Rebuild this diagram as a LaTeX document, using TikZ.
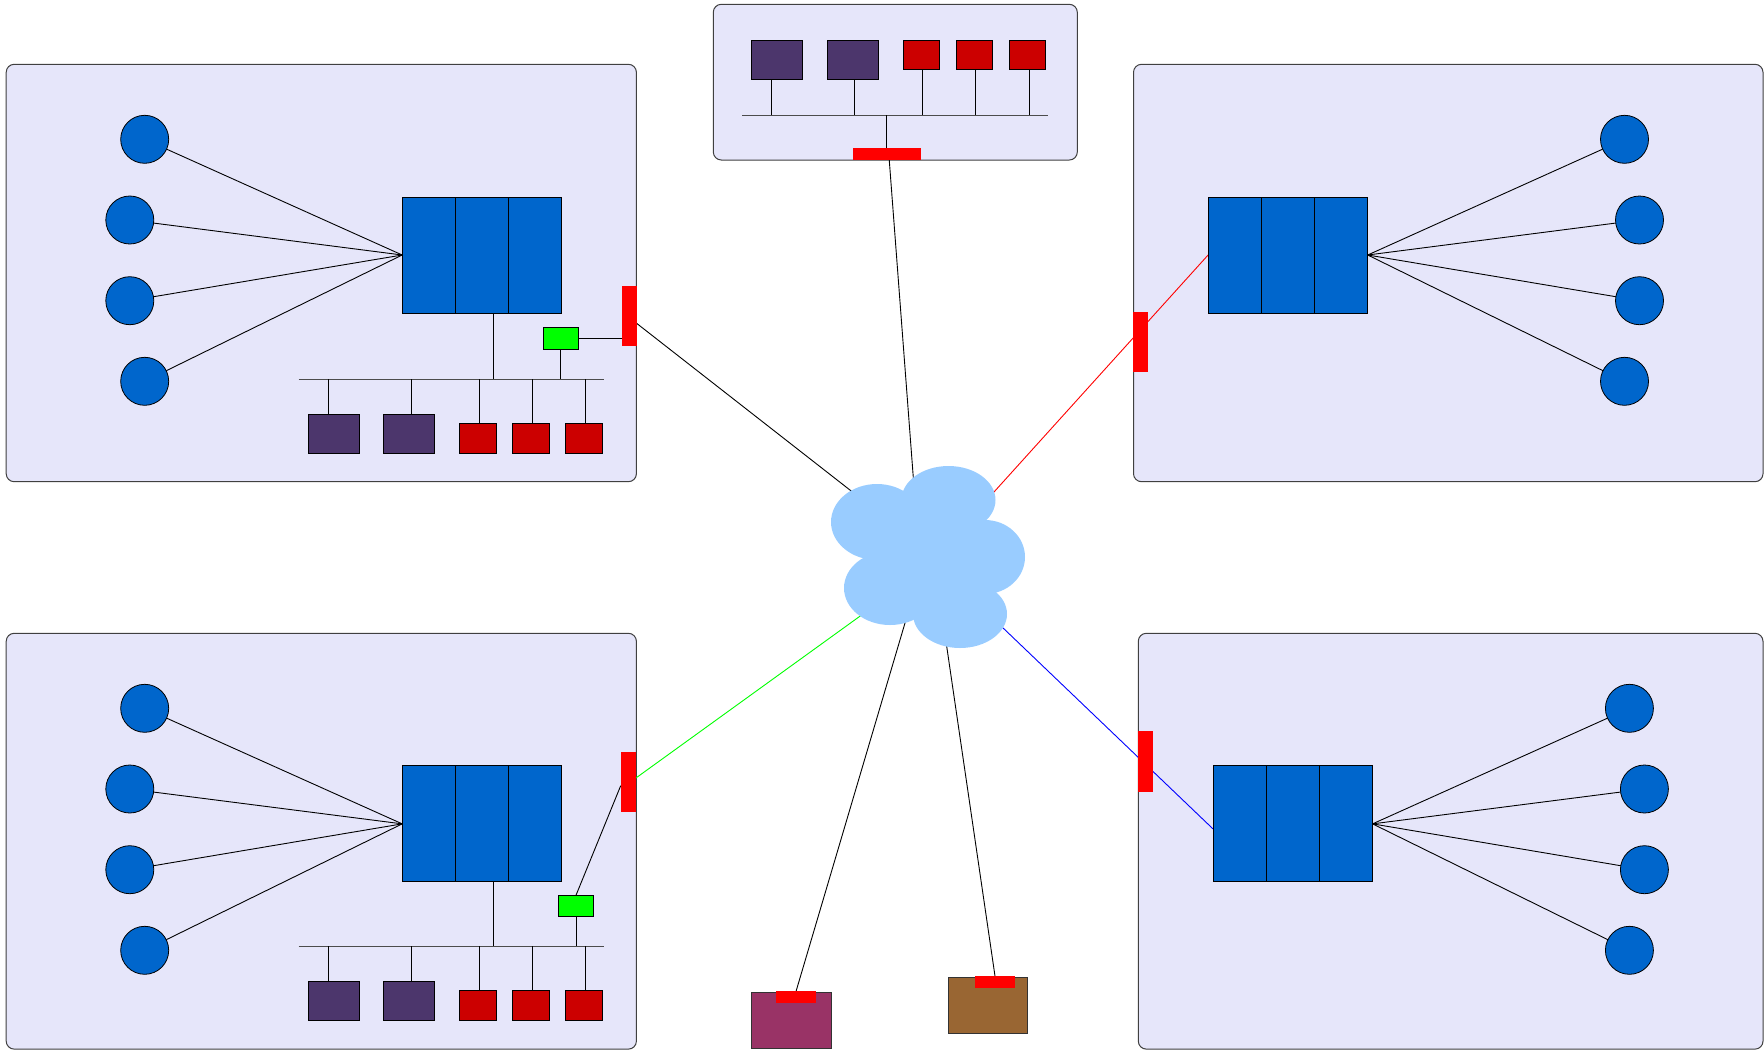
\documentclass[tikz,border=0pt]{standalone}
\usetikzlibrary{calc}
\definecolor{panel}{RGB}{230,230,250}
\definecolor{srvblue}{RGB}{0,102,204}
\definecolor{devpurple}{RGB}{76,54,108}
\definecolor{devred}{RGB}{204,0,0}
\definecolor{cloudblue}{RGB}{153,204,255}
\definecolor{magbox}{RGB}{153,51,102}
\definecolor{brownbox}{RGB}{153,102,51}
\pgfdeclarelayer{bg}\pgfdeclarelayer{edges}
\pgfsetlayers{bg,edges,main}
\tikzset{
 panelst/.style={draw=black!75, line width=1pt, fill=panel, rounded corners=8pt, inner sep=0pt, outer sep=0pt},
 bx/.style 2 args={inner sep=0pt, outer sep=0pt, minimum width=#1pt, minimum height=#2pt},
 srv/.style={bx={159.6}{116}, draw=black, line width=0.8pt, fill=srvblue},
 host/.style={circle, draw=black, line width=0.8pt, fill=srvblue, inner sep=0pt, outer sep=0pt, minimum size=48pt},
 pdev/.style={bx={51}{39}, draw=black, line width=0.8pt, fill=devpurple},
 rdev/.style={bx={37}{30}, draw=black, line width=0.8pt, fill=devred},
 gdev/.style={bx={35.3}{21.3}, draw=black, line width=0.8pt, fill=green},
 vbar/.style={bx={14.8}{60.6}, fill=red},
 tag/.style={bx={40}{11.5}, fill=red},
 ln/.style={draw=black, line width=0.9pt},
 busln/.style={draw=black!70, line width=1pt},
}
\begin{document}
\begin{tikzpicture}[x=1pt,y=-1pt]
\useasboundingbox (0,0) rectangle (1764,1050);
% panels
\begin{pgfonlayer}{bg}
\node[panelst, bx={630.2}{417.4}] (pnTL) at (321.3,273) {};
\node[panelst, bx={364}{155.7}] (pnT) at (895.3,82.15) {};
\node[panelst, bx={629.5}{417.4}] (pnTR) at (1448.25,273) {};
\node[panelst, bx={630.2}{415.8}] (pnBL) at (321.3,841.2) {};
\node[panelst, bx={624.7}{415.8}] (pnBR) at (1450.65,841.2) {};
\end{pgfonlayer}

% ---------- top-left panel ----------
\node[host] (cTL1) at (144.7,139.3) {};
\node[host] (cTL2) at (129.8,220) {};
\node[host] (cTL3) at (129.8,300.7) {};
\node[host] (cTL4) at (144.7,381.3) {};
\node[srv] (bTL) at (482,255) {};
\node[gdev] (gTL) at (560.65,338.35) {};
\node[vbar] (rTL) at (629.2,316) {};
\node[pdev] (pTL1) at (333.5,434.2) {};
\node[pdev] (pTL2) at (409.25,434.2) {};
\node[rdev] (qTL1) at (478.05,438.7) {};
\node[rdev] (qTL2) at (530.85,438.7) {};
\node[rdev] (qTL3) at (583.75,438.7) {};
\coordinate (busTLl) at (298.5,379);
\coordinate (busTLr) at (604,379);

% ---------- bottom-left panel ----------
\node[host] (cBL1) at (144.7,708.3) {};
\node[host] (cBL2) at (129.8,789) {};
\node[host] (cBL3) at (129.8,869.7) {};
\node[host] (cBL4) at (144.7,950.3) {};
\node[srv] (bBL) at (482,823.85) {};
\node[gdev] (gBL) at (576.1,905.65) {};
\node[vbar] (rBL) at (628.1,782) {};
\node[pdev] (pBL1) at (333.5,1001) {};
\node[pdev] (pBL2) at (409.25,1001) {};
\node[rdev] (qBL1) at (478.05,1005.5) {};
\node[rdev] (qBL2) at (530.85,1005.5) {};
\node[rdev] (qBL3) at (583.75,1005.5) {};
\coordinate (busBLl) at (298.5,946);
\coordinate (busBLr) at (604,946);

% ---------- top-right panel ----------
\node[host] (cTR1) at (1624.5,139.3) {};
\node[host] (cTR2) at (1639.5,220) {};
\node[host] (cTR3) at (1639.5,300.7) {};
\node[host] (cTR4) at (1624.5,381.3) {};
\node[srv] (bTR) at (1287.9,255) {};
\node[vbar] (rTR) at (1140.7,342) {};

% ---------- bottom-right panel ----------
\node[host] (cBR1) at (1629.4,708.3) {};
\node[host] (cBR2) at (1644.4,789) {};
\node[host] (cBR3) at (1644.4,869.7) {};
\node[host] (cBR4) at (1629.4,950.3) {};
\node[srv] (bBR) at (1292.75,823.85) {};
\node[vbar] (rBR) at (1145.8,761.2) {};

% block dividers (above the block fill)
\foreach \b in {bTL,bTR,bBL,bBR}{
  \draw[ln] ($(\b.north west)!1/3!(\b.north east)$) -- ($(\b.south west)!1/3!(\b.south east)$);
  \draw[ln] ($(\b.north west)!2/3!(\b.north east)$) -- ($(\b.south west)!2/3!(\b.south east)$);
}

% ---------- top panel ----------
\node[pdev] (pT1) at (777.2,59.5) {};
\node[pdev] (pT2) at (852.8,59.5) {};
\node[rdev, bx={36.7}{29.7}] (qT1) at (921.35,54.85) {};
\node[rdev, bx={36.7}{29.7}] (qT2) at (974.35,54.85) {};
\node[rdev, bx={36.7}{29.7}] (qT3) at (1027.35,54.85) {};
\node[bx={68.3}{12.3}, fill=red] (rT) at (886.85,153.85) {};
\coordinate (busTl) at (742.3,115);
\coordinate (busTr) at (1047.7,115);

% ---------- bottom boxes ----------
\node[bx={79.3}{56}, draw=black!80, line width=1pt, fill=magbox] (mbox) at (791.35,1020.3) {};
\node[tag] (tagM) at (796,997.2) {};
\node[bx={79.4}{56}, draw=black!80, line width=1pt, fill=brownbox] (bbox) at (988,1005) {};
\node[tag] (tagB) at (995,981.85) {};

% ---------- cloud ----------
\coordinate (cloud) at (930,560);
\coordinate (cA) at (880,513.5);
\coordinate (cB) at (915,500);
\coordinate (cC) at (975,513);
\coordinate (cD) at (985,610.7);
\coordinate (cE) at (880,601.7);
\coordinate (cF) at (911.8,600);
\coordinate (cG) at (944.3,630);
\fill[cloudblue] (877,522) ellipse [x radius=46pt, y radius=38pt];
\fill[cloudblue] (948.5,500) ellipse [x radius=47pt, y radius=34pt];
\fill[cloudblue] (985,557) ellipse [x radius=40pt, y radius=37pt];
\fill[cloudblue] (960,614) ellipse [x radius=47pt, y radius=34pt];
\fill[cloudblue] (890,588) ellipse [x radius=46pt, y radius=37pt];
\fill[cloudblue] (cloud) ellipse [x radius=60pt, y radius=50pt];

% ---------- edges ----------
\begin{pgfonlayer}{edges}
\foreach \i in {1,2,3,4}{
  \draw[ln] (cTL\i) -- (bTL.west);
  \draw[ln] (cBL\i) -- (bBL.west);
  \draw[ln] (cTR\i) -- (bTR.east);
  \draw[ln] (cBR\i) -- (bBR.east);
}
% top-left LAN
\draw[busln] (busTLl) -- (busTLr);
\draw[ln] ([xshift=11.4pt]bTL.south) -- ([xshift=11.4pt]bTL.south |- busTLl);
\draw[ln] ([xshift=-5.1pt]pTL1.north) -- ([xshift=-5.1pt]pTL1.north |- busTLl);
\draw[ln] ([xshift=2pt]pTL2.north) -- ([xshift=2pt]pTL2.north |- busTLl);
\draw[ln] ([xshift=1.2pt]qTL1.north) -- ([xshift=1.2pt]qTL1.north |- busTLl);
\draw[ln] ([xshift=1.4pt]qTL2.north) -- ([xshift=1.4pt]qTL2.north |- busTLl);
\draw[ln] ([xshift=1.6pt]qTL3.north) -- ([xshift=1.6pt]qTL3.north |- busTLl);
\draw[ln] (gTL.south) -- (gTL.south |- busTLl);
\draw[ln] (gTL.east) -- (gTL.east -| rTL.west);
% bottom-left LAN
\draw[busln] (busBLl) -- (busBLr);
\draw[ln] ([xshift=11.4pt]bBL.south) -- ([xshift=11.4pt]bBL.south |- busBLl);
\draw[ln] ([xshift=-5.1pt]pBL1.north) -- ([xshift=-5.1pt]pBL1.north |- busBLl);
\draw[ln] ([xshift=2pt]pBL2.north) -- ([xshift=2pt]pBL2.north |- busBLl);
\draw[ln] ([xshift=1.2pt]qBL1.north) -- ([xshift=1.2pt]qBL1.north |- busBLl);
\draw[ln] ([xshift=1.4pt]qBL2.north) -- ([xshift=1.4pt]qBL2.north |- busBLl);
\draw[ln] ([xshift=1.6pt]qBL3.north) -- ([xshift=1.6pt]qBL3.north |- busBLl);
\draw[ln] (gBL.south) -- (gBL.south |- busBLl);
\draw[ln] (gBL.north) -- ([yshift=-3.7pt]rBL.west);
% top LAN
\draw[busln] (busTl) -- (busTr);
\draw[ln] ([xshift=-5.5pt]pT1.south) -- ([xshift=-5.5pt]pT1.south |- busTl);
\draw[ln] ([xshift=1.9pt]pT2.south) -- ([xshift=1.9pt]pT2.south |- busTl);
\draw[ln] ([xshift=1.35pt]qT1.south) -- ([xshift=1.35pt]qT1.south |- busTl);
\draw[ln] ([xshift=1.35pt]qT2.south) -- ([xshift=1.35pt]qT2.south |- busTl);
\draw[ln] ([xshift=1.65pt]qT3.south) -- ([xshift=1.65pt]qT3.south |- busTl);
\draw[ln] (rT.north) -- (rT.north |- busTl);
% links to cloud
\draw[ln] ([yshift=-7.3pt]rTL.east) -- (cA);
\draw[ln] ([xshift=2.4pt]rT.south) -- (cB);
\draw[ln, draw=red] (bTR.west) -- (cC);
\draw[ln, draw=blue] ([yshift=-5pt]bBR.west) -- (cD);
\draw[ln, draw=green] ([yshift=3.7pt]rBL.east) -- (cE);
\draw[ln] (tagM.north) -- (cF);
\draw[ln] (tagB.north) -- (cG);
\end{pgfonlayer}
\end{tikzpicture}
\end{document}
